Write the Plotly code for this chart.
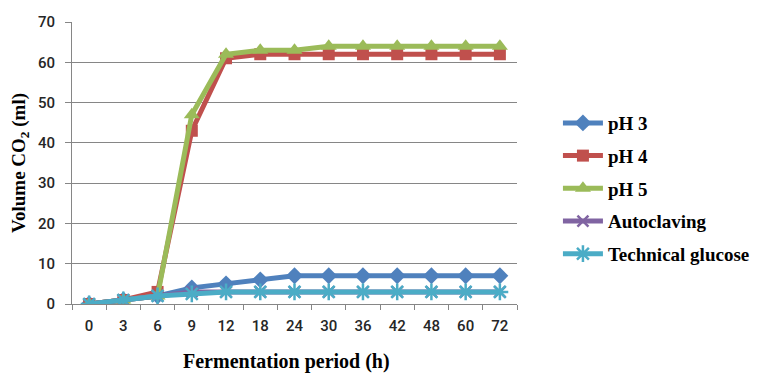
import plotly.graph_objects as go

hours = ["0", "3", "6", "9", "12", "18", "24", "30", "36", "42", "48", "60", "72"]
ph3 = [0, 1, 2, 4, 5, 6, 7, 7, 7, 7, 7, 7, 7]
ph4 = [0, 1, 3, 43, 61, 62, 62, 62, 62, 62, 62, 62, 62]
ph5 = [0, 1, 2, 47, 62, 63, 63, 64, 64, 64, 64, 64, 64]
autoclaving = [0, 1, 2, 3, 3, 3, 3, 3, 3, 3, 3, 3, 3]
tech_glucose = [0, 1, 2, 2.5, 3, 3, 3, 3, 3, 3, 3, 3, 3]

series = [
    ("pH 3", ph3, "#4F81BD", "diamond", 13, 0),
    ("pH 4", ph4, "#C0504D", "square", 12, 0),
    ("pH 5", ph5, "#9BBB59", "triangle-up", 14, 0),
    ("Autoclaving", autoclaving, "#8064A2", "x-thin-open", 11, 2.5),
    ("Technical glucose", tech_glucose, "#4BACC6", "asterisk-open", 14, 2.5),
]

fig = go.Figure()
for i, (name, vals, color, sym, size, lw) in enumerate(series):
    marker = dict(symbol=sym, size=size, color=color)
    if lw:
        marker["line"] = dict(color=color, width=lw)
    fig.add_trace(go.Scatter(
        x=hours, y=vals, name=name, mode="lines+markers",
        line=dict(color=color, width=5),
        marker=marker, legendgroup=name,
    ))

serif = "Liberation Serif"
sans = "Roboto"
fig.update_layout(
    width=770, height=374,
    margin=dict(l=64, r=261, t=14, b=78, autoexpand=False),
    plot_bgcolor="white", paper_bgcolor="white",
    font=dict(family=serif, color="#111111"),
    showlegend=True,
    legend=dict(
        x=1.092, xanchor="left", y=0.709, yanchor="top",
        font=dict(family=serif, size=19, color="black", weight="bold"),
        traceorder="grouped", tracegroupgap=5, itemwidth=40,
    ),
    xaxis=dict(
        type="category", range=[-0.5, 12.5], showgrid=False, automargin=False,
        showline=True, linecolor="#868686", linewidth=1,
        ticks="outside", tickson="boundaries", ticklen=5, tickcolor="#868686",
        ticklabelstandoff=8,
        tickfont=dict(size=15, family=sans, weight=500, color="#262626"),
    ),
    yaxis=dict(
        range=[0, 70], dtick=10, showgrid=True, gridcolor="#868686", gridwidth=1,
        showline=True, linecolor="#868686", linewidth=1, automargin=False,
        ticks="outside", ticklen=6, tickcolor="#868686", zeroline=False,
        ticklabelstandoff=7,
        tickfont=dict(size=15, family=sans, weight=500, color="#262626"),
        title=dict(text="Volume CO<sub>2</sub> (ml)", standoff=10,
                   font=dict(size=19, family=serif, weight="bold", color="black")),
    ),
    annotations=[dict(
        text="Fermentation period (h)", xref="paper", yref="paper",
        x=0.482, y=-0.205, xanchor="center", yanchor="middle", showarrow=False,
        font=dict(size=20, family=serif, weight="bold", color="black"),
    )],
)

fig.write_html("out.html")
